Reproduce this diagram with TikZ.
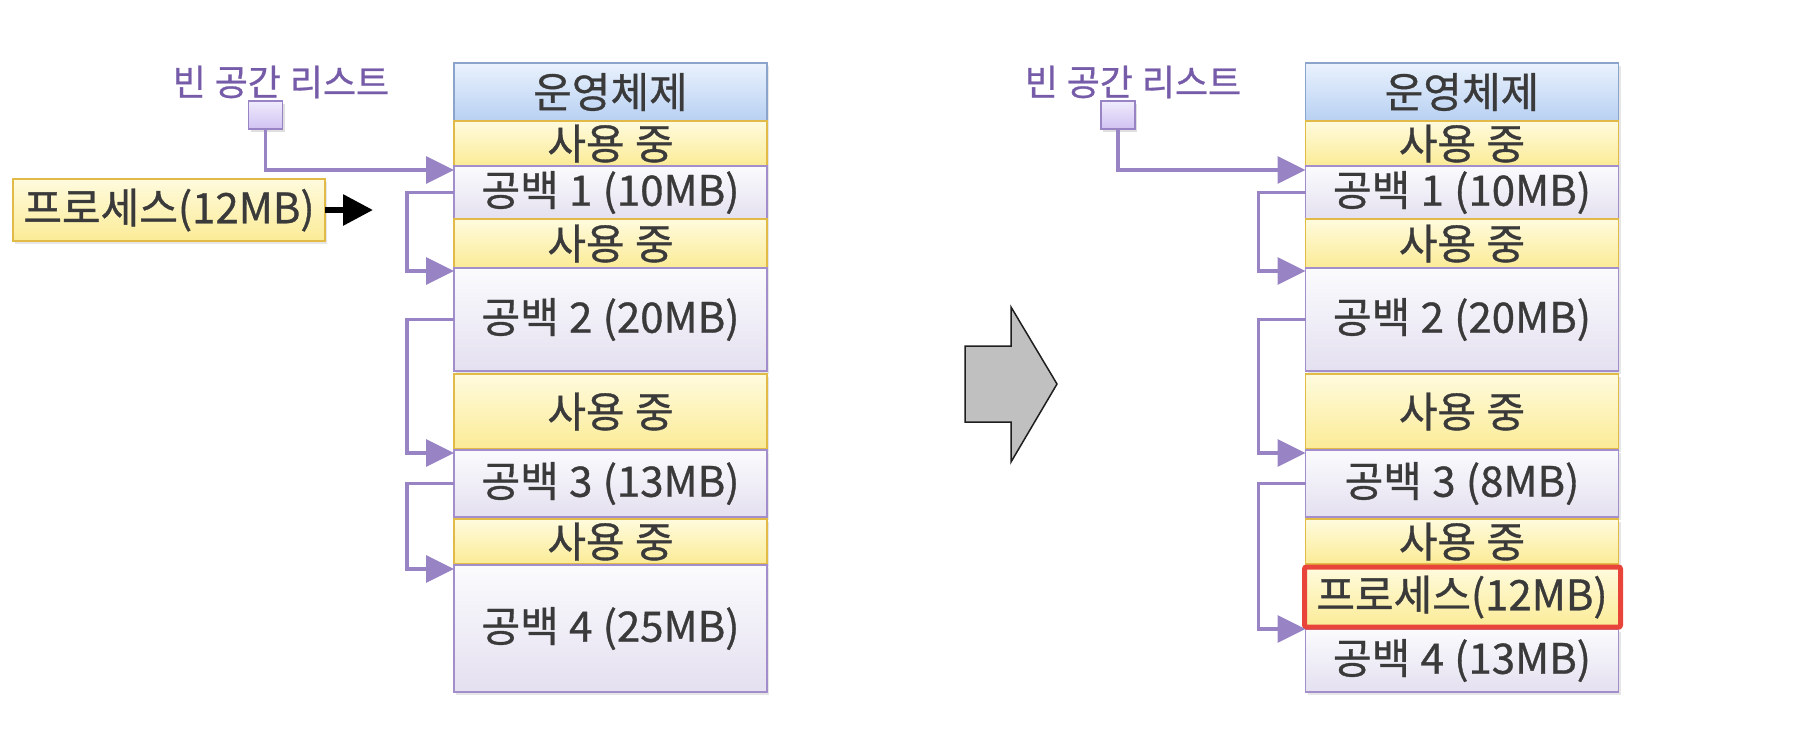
\documentclass[tikz,border=0pt]{standalone}
\usepackage{fontspec}
\setmainfont[WordSpace=1.1, FakeBold=0.8]{Noto Sans CJK KR}
\usetikzlibrary{positioning, arrows.meta, shadows}
\definecolor{txt}{RGB}{58,58,58}
\definecolor{ostop}{RGB}{234,242,253}
\definecolor{osbot}{RGB}{184,208,242}
\definecolor{osline}{RGB}{138,164,204}
\definecolor{usedtop}{RGB}{255,251,222}
\definecolor{usedbot}{RGB}{251,235,150}
\definecolor{usedline}{RGB}{226,186,72}
\definecolor{freetop}{RGB}{251,251,253}
\definecolor{freebot}{RGB}{228,224,240}
\definecolor{freeline}{RGB}{162,142,202}
\definecolor{linkc}{RGB}{152,132,196}
\definecolor{listtop}{RGB}{240,235,253}
\definecolor{listbot}{RGB}{208,194,242}
\definecolor{listc}{RGB}{118,92,168}
\definecolor{hilite}{RGB}{232,68,58}
\tikzset{
  x=1pt, y=-1pt,
  >={Triangle[length=28pt, width=27pt]},
  block/.style={minimum width=313pt, inner sep=0pt, outer sep=0pt, line width=1.5pt,
    text=txt, font=\fontsize{42}{46}\selectfont,
    drop shadow={opacity=0.2, shadow xshift=2pt, shadow yshift=-3pt}},
  os/.style={block, draw=osline, top color=ostop, bottom color=osbot},
  used/.style={block, draw=usedline, top color=usedtop, bottom color=usedbot},
  free/.style={block, draw=freeline, top color=freetop, bottom color=freebot},
  listbox/.style={draw=linkc, line width=1.8pt, top color=listtop, bottom color=listbot,
    minimum width=34pt, minimum height=28pt, inner sep=0pt,
    drop shadow={opacity=0.25, shadow xshift=2pt, shadow yshift=-3pt}},
  listlabel/.style={text=listc, font=\fontsize{36}{40}\selectfont, inner sep=0pt},
  link/.style={->, draw=linkc, line width=3.5pt},
  push/.style={->, >={Triangle[length=30pt, width=30pt]}, line width=6pt},
  bigarrow/.style={fill={rgb,255:red,192;green,192;blue,192}, draw={rgb,255:red,30;green,30;blue,30}, line width=1.5pt},
}
\begin{document}
\begin{tikzpicture}
		\useasboundingbox (0,0) rectangle (1814,740);

		% memory before
		\node[os, minimum height=58pt, anchor=north] (os) at (610.5,63) {운영체제};
		\node[used, minimum height=45pt, below=0pt of os] (used1) {사용 중};
		\node[free, minimum height=53pt, below=0pt of used1] (free1) {공백 1 (10MB)};
		\node[used, minimum height=49pt, below=0pt of free1] (used2) {사용 중};
		\node[free, minimum height=103pt, below=0pt of used2] (free2) {공백 2 (20MB)};
		\node[used, minimum height=75pt, below=3pt of free2] (used3) {사용 중};
		\node[free, minimum height=67pt, below=1pt of used3] (free3) {공백 3 (13MB)};
		\node[used, minimum height=45pt, below=2pt of free3] (used4) {사용 중};
		\node[free, minimum height=127pt, below=1pt of used4] (free4) {공백 4 (25MB)};

		% free list and new process
		\node[listlabel] (label) at (281,82) {빈 공간 리스트};
		\node[listbox] (list) at (265.5,115) {};
		\node[used, minimum width=312pt, minimum height=62pt] (newproc) at (169,210) {프로세스(12MB)};
		\coordinate (procend) at (373,210);

		% links
		\draw[link] (list) |- ([yshift=-4pt]free1.north west);
		\draw[link] (free1.west) -- ++(-47,0) |- ([yshift=-3pt]free2.north west);
		\draw[link] (free2.west) -- ++(-47,0) |- ([yshift=-3pt]free3.north west);
		\draw[link] (free3.west) -- ++(-47,0) |- ([yshift=-4pt]free4.north west);
		\draw[push] (newproc) -- (procend);

		% big arrow
		\draw[bigarrow] (965,346) -- (1011,346) -- (1011,307) -- (1057,384)
		-- (1011,462) -- (1011,422) -- (965,422) -- cycle;

		% memory after
		\node[os, minimum height=58pt, anchor=north] (osR) at (1462,63) {운영체제};
		\node[used, minimum height=45pt, below=0pt of osR] (used1R) {사용 중};
		\node[free, minimum height=53pt, below=0pt of used1R] (free1R) {공백 1 (10MB)};
		\node[used, minimum height=49pt, below=0pt of free1R] (used2R) {사용 중};
		\node[free, minimum height=103pt, below=0pt of used2R] (free2R) {공백 2 (20MB)};
		\node[used, minimum height=75pt, below=3pt of free2R] (used3R) {사용 중};
		\node[free, minimum height=67pt, below=1pt of used3R] (free3R) {공백 3 (8MB)};
		\node[used, minimum height=45pt, below=2pt of free3R] (used4R) {사용 중};
		\node[used, minimum height=60pt, below=3pt of used4R] (procR) {프로세스(12MB)};
		\node[free, minimum height=63pt, below=2pt of procR] (free4R) {공백 4 (13MB)};
		\draw[hilite, line width=5pt, rounded corners=2pt] ([xshift=-1pt]procR.north west) rectangle ([xshift=2pt]procR.south east);

		\node[listlabel] (labelR) at (1133,82) {빈 공간 리스트};
		\node[listbox] (listR) at (1118,115) {};

		\draw[link] (listR) |- ([yshift=-4pt]free1R.north west);
		\draw[link] (free1R.west) -- ++(-47,0) |- ([yshift=-3pt]free2R.north west);
		\draw[link] (free2R.west) -- ++(-47,0) |- ([yshift=-3pt]free3R.north west);
		\draw[link] (free3R.west) -- ++(-47,0) |- (free4R.north west);

	\end{tikzpicture}
\end{document}
